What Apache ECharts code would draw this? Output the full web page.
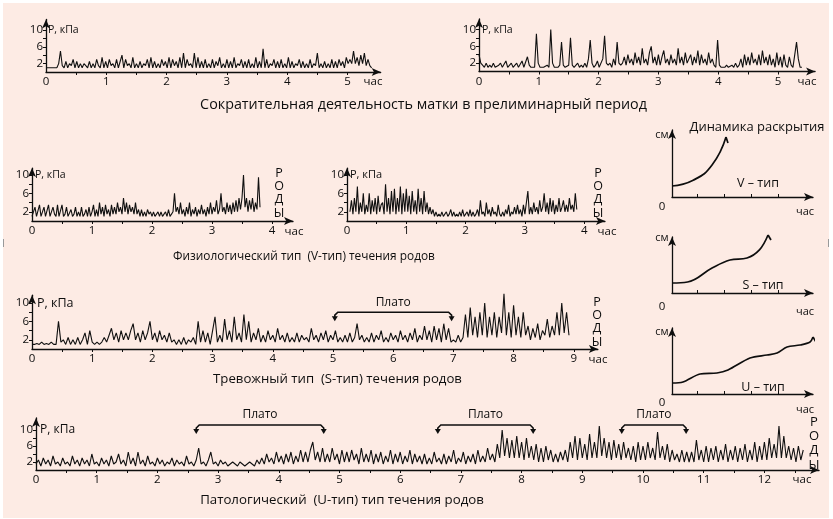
<!DOCTYPE html>
<html><head><meta charset="utf-8">
<script src="https://cdn.jsdelivr.net/npm/echarts@6/dist/echarts.min.js"></script>
<style>
html,body{margin:0;padding:0;background:#fff;}
#bg{position:absolute;left:3px;top:3px;width:826px;height:515px;background:#fdebe4;}
#c{position:absolute;left:0;top:0;width:833px;height:519px;}
</style></head>
<body><div id="bg"></div><div id="c"></div>
<script>
// ===== DATA (kPa, sampled every `step` hours from `t0`) =====
const p1Start = 0, p1Step = 0.03;
const p1Values = [1,1,1,1,1,1.2,1,2,5,1.5, 1,2.5,1,2,1.5,3,1,2.5,1,2, 1,2,1.5,1,2.5,1,2,1,3,1.5, 1,3.5,1,2.5,1,3,1.5,2,1,3,
 1,2.5,4,1,3,1.5,2,1,3.5,1, 2,1,2.5,1,2,1.5,3,1,3.5,1, 2.5,1,2,1,3,1.5,2.5,1,3.5,1, 3,1.5,2.5,1,3.5,1,4.5,1,3,1.5,
 2,1,4.5,1,3.5,1,2.5,1,3,1, 2,1,3,1,2.5,1.5,3.5,1,2,1, 3,1,2.5,1,3.5,1,2,1.5,3,1, 2.5,1,3,1,2,1,3.5,1,2.5,1,
 5.5,1,3,1,2,1.5,3,1,2.5,1, 3,1,2,1,3.5,1,2.5,1,2,1.5, 3,1,2.5,1,2,1,3,1,2,1.5, 4.5,1,2,1,2.5,1,2,1,3,1,
 2.5,1,3,1.5,2.5,1,3.5,2,3,2, 5,2,3.5,1.5,4,2,4.5,1.5,3,1.5, 1];
const p2Start = 0, p2Step = 0.03;
const p2Values = [4,2,1.5,1,2,1,1.5,1,2,1, 1,1.5,2,1,1,2.5,1,1,2,1, 1,2,1,1,2.5,1,1,3.5,1.5,1, 1,1,9,2,1,1,1,1,1.5,1,
 10,2,1,1,1,1.5,7,1.5,1,1, 1.5,8,1.5,1,1,2,1,1.5,1,2, 1,3,7.5,2,1,1.5,2.5,1,1,3, 8.5,2,1.5,2,1,3,1.5,7,2,1.5,
 2,3.5,1.5,4,2,3,1.5,4.5,2,3.5, 1.5,5.5,2,3,1.5,4.5,6,2,3.5,1.5, 4,1.5,3.5,5,2,3,1.5,4,2,3, 1.5,5.5,2,3.5,1.5,4.5,2,3,4,1.5,
 3.5,2,5,1.5,4,2,3,1.5,4.5,2, 3,1.5,1,7.5,1.5,1,1,1,1.5,1, 1,1.5,1,2,1,1.5,3,1,4,1.5, 3.5,1.5,4.5,2,3,1.5,4,1.5,5,2,
 3.5,1.5,4,1.5,3,1,4.5,1.5,3.5,1, 4,1.5,1,3.5,1.5,1,1,7,3,1, 1];
const p3Start = 0, p3Step = 0.025;
const p3Values = [1,1,3,1,1,3.5,1,1, 3,1,1,3.5,1,1,3,1.5, 1,3.5,1,1,3.5,1,1.5,3, 1,1,2.5,1,1.5,3,1,2, 1,3,1,1.5,2.5,1,3,1,
 2,3.5,1,2.5,1,4,1.5,3, 1,3.5,1.5,2.5,1,3.5,1.5,3, 1.5,4,2,3,1.5,5,2,4, 1.5,3.5,2,3,1.5,4,1.5,2.5, 1,2.5,1,2,1,2.5,1.5,2,
 1,2,1,1.5,2,1,2,1, 1.5,2,1,2.5,1,1.5,2,6, 2,3,1.5,4,1.5,2.5,1,3, 1.5,4,1,2.5,1.5,3,1,2.5, 1.5,3.5,1.5,2.5,1,3,1.5,4,
 1.5,3,2,4.5,1.5,2.5,6,2, 3,1.5,4,2,3.5,1.5,4,2, 4.5,2,5,2.5,5,10,3,5, 2,4.5,2.5,5,2,4,2.5,9.5, 3];
const p4Start = 0.05, p4Step = 0.025;
const p4Values = [2,4.5,1.5,5,2,7.5,1.5,4, 2,6,1.5,3.5,2,6,1.5,4.5, 2,5,1.5,5.5,2,3.5,4,1.5, 8,2,5,1.5,6.5,2,7,1.5, 5,2,7.5,1.5,6,2,7,2,
 5.5,1.5,6.5,2,4.5,1.5,7,2, 5,1.5,6.5,2,4,1.5,3,1.5, 2.5,1,2,1,1.5,1,2,1, 1,2,1,1.5,2.5,1,2,1, 1.5,1,2,1,2.5,1,1.5,2,
 1,2.5,1,2,1,1.5,2.5,1, 4.5,1.5,2,1,4,1.5,2.5,1, 3,1.5,2,1,3.5,1.5,1,2, 1,2.5,1.5,3.5,1,2,1.5,3, 1.5,3.5,1.5,2.5,1,3.5,1.5,4,
 6.5,1.5,3,1.5,4,2,3,1.5, 4.5,2,3,6,2,4,1.5,5, 2,4.5,1.5,3.5,2,5,2,3, 4.5,2,3.5,2,5,2.5,3.5,2, 6,2.5];
const p5Start = 0, p5Step = 0.04;
const p5Values = [1,1,1.2,1,1.5,1,1.2,1,1.5,1, 1,6,1.5,2,1,2.5,1,2,1,2.5, 1,2,3.5,1,4,1.5,1,1.5,1,1.5, 2.5,1.5,3,4.5,2,3.5,1.5,4,2,3.5,
 2,4,5.5,2,3.5,1.5,4,2,3.5,6, 2,3.5,1.5,4,2,3,1.5,3.5,1.5,2, 1,2,1,2.5,1,2,1.5,2.5,1,6, 1.5,4,1.5,3.5,1,4,7,1.5,3,1.5,
 6.5,2,4,1.5,7,2,3.5,1.5,7.5,2, 6,1.5,3.5,2,4.5,1.5,3,1.5,4,2, 3,1.5,4.5,2,3,1.5,3.5,1.5,2.5,1.5, 3.5,1.5,3,2,2.5,1.5,4.5,2,3,1.5,
 3.5,2,4,1.5,3,2,4,1.5,2.5,1.5, 3,1.5,3.5,1.5,2.5,5.5,2,3,1.5,2.5, 1.5,3.5,1.5,3,2,4,1.5,2.5,1.5,3.5, 2,3,1.5,4,2,3,1.5,3.5,2,4.5,
 1.5,3,2,5,2,4,1.5,5,2,4.5, 1.5,5.5,2,4.5,1.5,2,1.5,3,1.5,2.5, 7.5,2.5,9,3,7,2.5,8,3,10,2.5, 7,3,8,2.5,7,3.5,12,3,8,2.5,
 9.5,3,7,2.5,8,3,5,2,4.5,2.5, 5.5,2,4,3,6.5,2.5,5,3,8,3, 10,3.5,8,3];
const p6Start = 0, p6Step = 0.04;
const p6Values = [1.5,2.5,1,3,1.5,2.5,1,3.5,1.5,2, 1,3,1.5,2,1,3.5,1.5,2.5,1,3, 1.5,2.5,1,4,1.5,2,1,3,1.5,2.5, 1,3.5,1.5,2,4,1.5,2.5,1,4.5,1.5,
 3,1,4.5,1.5,2.5,1,3.5,1.5,2,1, 3,1.5,2.5,1,2,1.5,3,1,2.5,1.5, 2,1,3.5,1.5,2,1,2.5,5.5,1.5,2, 1,2.5,4.5,1.5,2,1,2.5,1.5,2,1,
 1.5,2,1.5,1,2,1.5,1,1.5,2,1.5, 1,2.5,1.5,3,1.5,4,2,3,1.5,4.5, 2,3.5,1.5,4,2,4.5,1.5,3.5,2,5, 2,4.5,2,5,7,2.5,4.5,2,5.5,2,
 4,2,5.5,2.5,4,1.5,5,2,4.5,2, 5,2.5,4,1.5,5.5,2,4,2,5,1.5, 4,2,4.5,1.5,3.5,2,5,1.5,4,2, 4.5,1.5,3.5,2,5,1.5,4,2,3.5,1.5,
 4,1.5,3,1.5,4.5,2,3,1.5,4,1.5, 3.5,2,5,1.5,3,2,4.5,1.5,3.5,2, 4,1.5,5,2,3.5,2,5.5,2.5,4,2, 6.5,3,10,3.5,8,3,7.5,3,8.5,3,
 7,2.5,8,3,6,2.5,6.5,2,5.5,2, 6,2.5,5,2,4,2,4.5,2.5,5,2, 7,3,8.5,2.5,8,3,6.5,2.5,9,3, 7,3,11,3.5,8,3,7,2.5,7.5,3,
 6.5,2.5,7,3,5.5,2.5,6,2,7,2.5, 6,2.5,7,3,5.5,2.5,9.5,3,6,2.5, 6.5,2,5,2.5,4,2,5,2,4.5,2, 4.5,2,7.5,2.5,5,2,6,2,5.5,2.5,
 6,2,5,2.5,6.5,2,5,2.5,6,2, 5.5,2.5,6.5,2,5,2.5,7,2,6,2.5, 7,2.5,8,3,6.5,3,11,3,8.5,3, 6,2.5,5.5,2,6,2.5,5];

// Tick labels (hours / kPa)
const hours5 = [0,1,2,3,4,5];
const hours4 = [0,1,2,3,4];
const hours9 = [0,1,2,3,4,5,6,7,8,9];
const hours12 = [0,1,2,3,4,5,6,7,8,9,10,11,12];
const kpaLabels = [2,6,10];
const kpaTicks = [2,4,6,8,10];

// Plateau intervals [start h, end h, bracket level kPa]
const plateauS = [[5.03,6.97,8.0]];
const plateauU = [[2.64,4.74,11.25],[6.62,8.19,11.25],[9.65,10.71,11.25]];

// Cervical dilation curves (arbitrary units) + end hooks
const dilV = [[0,1.64],[1.5,2.5],[2.84,4.78],[3.83,8.96]];
const hookV = [[3.83,8.96],[3.97,8.06]];
const dilS = [[0,1.79],[1.1,1.96],[2.84,4.46],[4.11,5.89],[5.32,6.25],[6.2,7.7],[6.81,10.36]];
const hookS = [[6.81,10.36],[7.02,9.46]];
const dilU = [[0,1.67],[0.78,1.82],[1.99,3.03],[3.19,3.18],[3.97,3.64],[5.53,5.45],[6.74,5.91],[7.45,6.21],[8.16,7.12],[9.08,7.42],[9.79,7.88],[10,8.64]];
const hookU = [[10,8.64],[10.21,7.88]];

// ===== LAYOUT =====
const FONT = '"Open Sans", "DejaVu Sans", sans-serif';
const INK = '#0e0e0e';
const traces = [
  {vals:p1Values, t0:p1Start, step:p1Step, labels:hours5, L:{left:46, zeroY:72, pxH:60.3, pxV:4.2, xMax:5.55, yMax:12.5}},
  {vals:p2Values, t0:p2Start, step:p2Step, labels:hours5, L:{left:479, zeroY:71.5, pxH:59.8, pxV:4.2, xMax:5.62, yMax:12.5}},
  {vals:p3Values, t0:p3Start, step:p3Step, labels:hours4, L:{left:32, zeroY:221, pxH:60, pxV:4.6, xMax:4.35, yMax:11.5}},
  {vals:p4Values, t0:p4Start, step:p4Step, labels:hours4, L:{left:347, zeroY:221, pxH:59.3, pxV:4.6, xMax:4.35, yMax:11.5}},
  {vals:p5Values, t0:p5Start, step:p5Step, labels:hours9, L:{left:32, zeroY:349, pxH:60.2, pxV:4.6, xMax:9.4, yMax:11.7}},
  {vals:p6Values, t0:p6Start, step:p6Step, labels:hours12, L:{left:36, zeroY:470, pxH:60.7, pxV:4.0, xMax:12.9, yMax:13}}
];
const smalls = [
  {curve:dilV, hook:hookV, smooth:0.5, L:{left:672, zeroY:197, pxX:14.1, pxY:6.7}},
  {curve:dilS, hook:hookS, smooth:0.4, L:{left:672, zeroY:293, pxX:14.1, pxY:5.6}},
  {curve:dilU, hook:hookU, smooth:0.3, L:{left:672, zeroY:394, pxX:14.1, pxY:6.6}}
];

const grid = [], xAxis = [], yAxis = [], series = [];
const axLine = {show:true, symbol:['none','arrow'], symbolSize:[6,9], lineStyle:{color:INK, width:1.3}};
traces.forEach((tr, i) => {
  const L = tr.L;
  grid.push({left:L.left, top:L.zeroY - L.yMax*L.pxV, width:L.xMax*L.pxH, height:L.yMax*L.pxV});
  const halfTicks = [];
  for (let k = 1; k * 0.5 < L.xMax - 0.2; k++) halfTicks.push(k * 0.5);
  xAxis.push({gridIndex:i, type:'value', min:0, max:L.xMax, axisLine:axLine,
    axisTick:{show:true, customValues:halfTicks, length:3, lineStyle:{color:INK, width:1}},
    axisLabel:{customValues:tr.labels, fontFamily:FONT, fontSize:11.5, color:INK, margin:4},
    splitLine:{show:false}});
  yAxis.push({gridIndex:i, type:'value', min:0, max:L.yMax, axisLine:axLine,
    axisTick:{show:true, customValues:kpaTicks, length:3, lineStyle:{color:INK, width:1}},
    axisLabel:{customValues:kpaLabels, fontFamily:FONT, fontSize:11.5, color:INK, margin:3},
    splitLine:{show:false}});
  series.push({type:'line', xAxisIndex:i, yAxisIndex:i, symbol:'none', clip:false, animation:false,
    lineStyle:{color:'#101010', width:1.1},
    data: tr.vals.map((v, k) => [tr.t0 + k * tr.step, v])});
});
smalls.forEach((s, j) => {
  const i = traces.length + j, L = s.L;
  grid.push({left:L.left, top:L.zeroY - 10*L.pxY, width:10*L.pxX, height:10*L.pxY});
  xAxis.push({gridIndex:i, type:'value', min:0, max:10, axisLine:axLine,
    axisTick:{show:true, customValues:[1.8,3.7,5.6,7.5], length:3, inside:true, lineStyle:{color:INK}},
    axisLabel:{show:false}, splitLine:{show:false}});
  yAxis.push({gridIndex:i, type:'value', min:0, max:10, axisLine:axLine,
    axisTick:{show:false}, axisLabel:{show:false}, splitLine:{show:false}});
  series.push({type:'line', xAxisIndex:i, yAxisIndex:i, symbol:'none', clip:false, smooth:s.smooth, animation:false,
    lineStyle:{color:INK, width:1.7}, data:s.curve});
  series.push({type:'line', xAxisIndex:i, yAxisIndex:i, symbol:'none', clip:false, animation:false,
    lineStyle:{color:INK, width:1.7}, data:s.hook});
});

function bracket(params, api) {
  const a = api.coord([api.value(0), api.value(2)]);
  const b = api.coord([api.value(1), api.value(2)]);
  const y = a[1];
  const st = {stroke:INK, lineWidth:1.6, fill:null};
  return {type:'group', children:[
    {type:'polyline', shape:{points:[[a[0],y+6],[a[0],y+3],[a[0]+3,y],[b[0]-3,y],[b[0],y+3],[b[0],y+6]]}, style:st},
    {type:'polygon', shape:{points:[[a[0]-3,y+4],[a[0]+3,y+4],[a[0],y+9]]}, style:{fill:INK}},
    {type:'polygon', shape:{points:[[b[0]-3,y+4],[b[0]+3,y+4],[b[0],y+9]]}, style:{fill:INK}},
    {type:'text', x:(a[0]+b[0])/2, y:y-10, style:{text:'Плато', fontFamily:FONT, fontSize:12, fill:INK, align:'center', verticalAlign:'middle'}}
  ]};
}
series.push({type:'custom', xAxisIndex:4, yAxisIndex:4, clip:false, renderItem:bracket, data:plateauS, z:5});
series.push({type:'custom', xAxisIndex:5, yAxisIndex:5, clip:false, renderItem:bracket, data:plateauU, z:5});

// ===== TEXTS =====
const mctx = document.createElement('canvas').getContext('2d');
function fit(text, width) { mctx.font = '100px ' + FONT; return 100 * width / mctx.measureText(text).width; }
const texts = [];
function T(text, x, y, size, align, lh) {
  const st = {text:text, fontFamily:FONT, fontSize:size, fill:INK, align:align||'center', verticalAlign:'middle'};
  if (lh) st.lineHeight = lh;
  texts.push({type:'text', x:x, y:y, z:10, style:st});
}
function cap(text, x0, x1, y) { T(text, (x0+x1)/2, y, fit(text, x1-x0)); }
cap('Сократительная деятельность матки в прелиминарный период', 200, 647, 105);
cap('Физиологический тип  (V-тип) течения родов', 173, 435, 257);
cap('Тревожный тип  (S-тип) течения родов', 213, 462, 379);
cap('Патологический  (U-тип) тип течения родов', 200, 484, 500);
// P, кПа
T('P, кПа', 48, 30, 10.5, 'left'); T('P, кПа', 482, 30, 10.5, 'left');
T('P, кПа', 35, 175, 10.5, 'left'); T('P, кПа', 350, 175, 11, 'left');
T('P, кПа', 37, 303, 12.5, 'left'); T('P, кПа', 40, 430, 12, 'left');
// час
T('час', 373, 82, 11.5); T('час', 807, 82, 11.5); T('час', 294, 232, 11.5);
T('час', 607, 232, 11.5); T('час', 598, 360, 11.5); T('час', 802, 480, 11.5);
// РОДЫ
const rody = 'Р\nО\nД\nЫ';
T(rody, 279, 193, 12.5, 'center', 13.3);
T(rody, 598, 193, 12.5, 'center', 13.3);
T(rody, 597, 322, 12.5, 'center', 13.3);
T(rody, 814, 443.5, 13, 'center', 14.3);
// small charts
T('Динамика раскрытия', 757, 127, fit('Динамика раскрытия', 135));
T('V – тип', 758, 183, 12.5); T('S – тип', 763, 285, 12.5); T('U – тип', 763, 387, 12.5);
[[135,207,212],[238,307,312],[332,403,410]].forEach(r => {
  T('см', 662, r[0], 11); T('0', 662, r[1], 11.5); T('час', 805, r[2], 11);
});
// edge marks
texts.push({type:'line', shape:{x1:3.5,y1:239,x2:3.5,y2:247}, style:{stroke:'#999', lineWidth:1}});
texts.push({type:'line', shape:{x1:828.5,y1:239,x2:828.5,y2:247}, style:{stroke:'#999', lineWidth:1}});

const chart = echarts.init(document.getElementById('c'), null, {width:833, height:519});
chart.setOption({backgroundColor:'transparent', animation:false, grid, xAxis, yAxis, series, graphic:texts});
</script></body></html>
